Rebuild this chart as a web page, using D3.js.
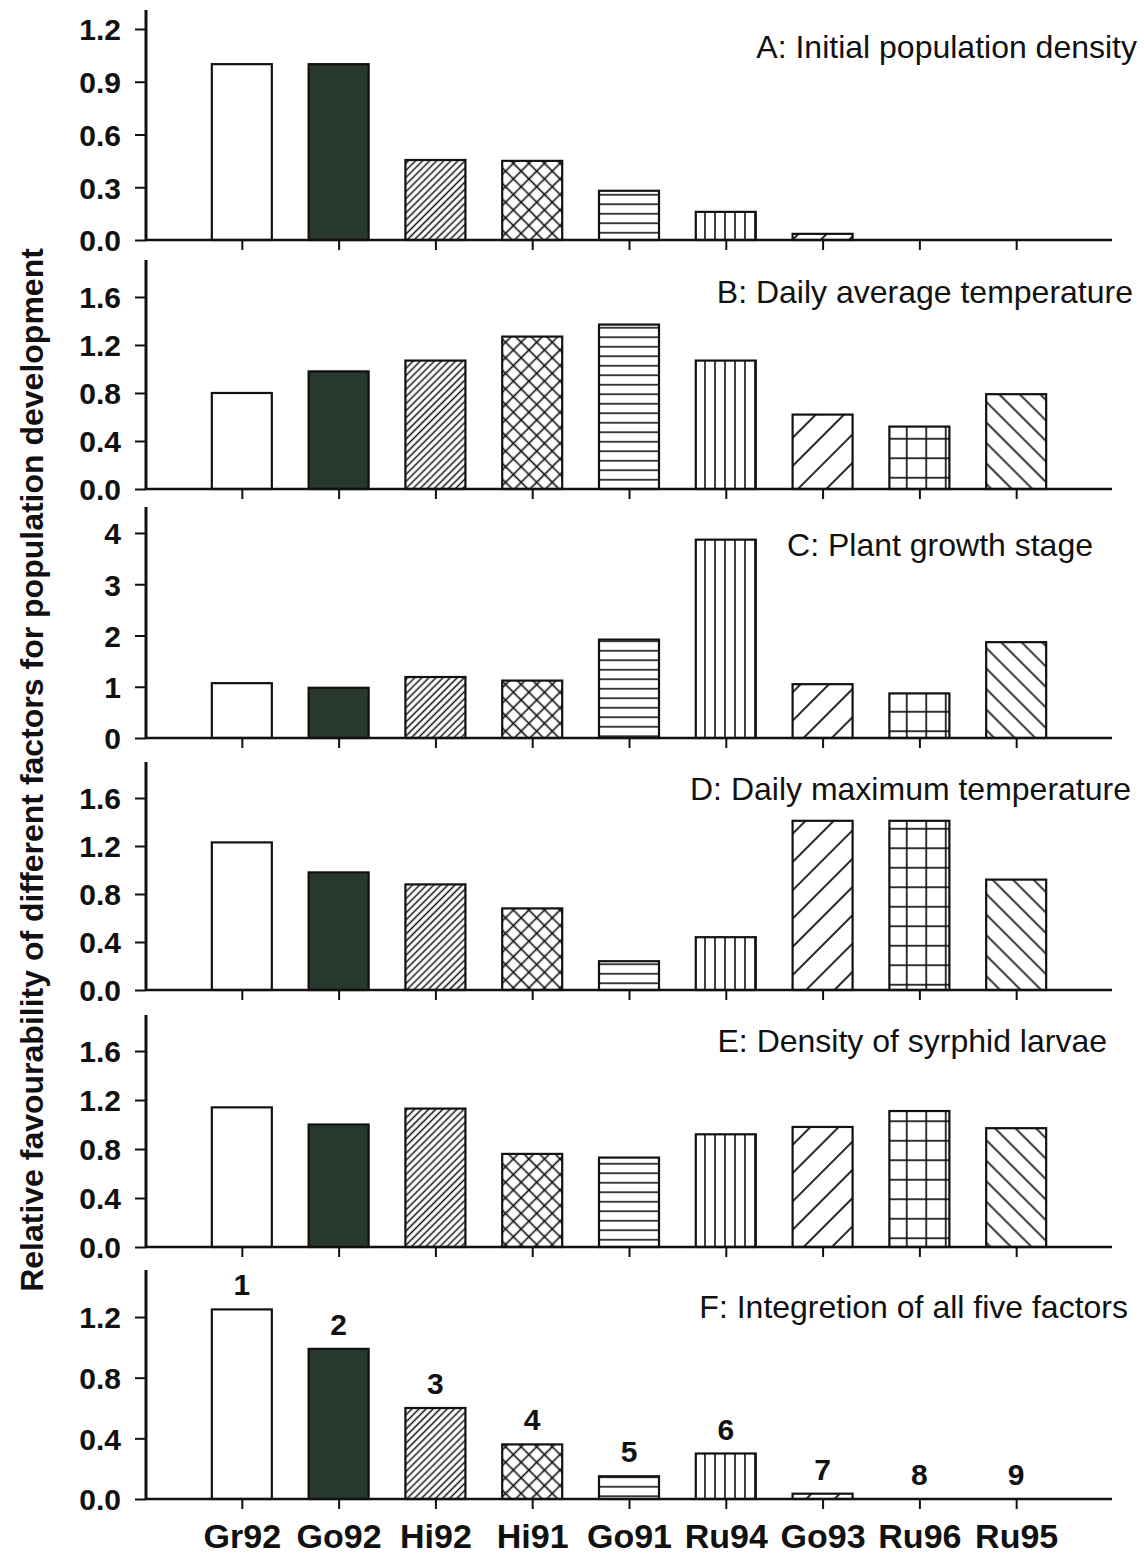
<!DOCTYPE html>
<html>
<head>
<meta charset="utf-8">
<script src="https://cdn.jsdelivr.net/npm/d3@7"></script>
<style>
  body { margin: 0; background: #fff; }
  svg { display: block; }
</style>
</head>
<body>
<script>
// ---- data -------------------------------------------------------------
const categories = ["Gr92", "Go92", "Hi92", "Hi91", "Go91", "Ru94", "Go93", "Ru96", "Ru95"];

const initialDensity = [1.00, 1.00, 0.455, 0.45, 0.28, 0.16, 0.035, 0, 0];
const avgTemperature = [0.80, 0.98, 1.07, 1.27, 1.37, 1.07, 0.62, 0.52, 0.79];
const growthStage    = [1.07, 0.98, 1.19, 1.12, 1.92, 3.87, 1.05, 0.87, 1.87];
const maxTemperature = [1.23, 0.98, 0.88, 0.68, 0.24, 0.44, 1.41, 1.41, 0.92];
const syrphidDensity = [1.14, 1.00, 1.13, 0.76, 0.73, 0.92, 0.98, 1.11, 0.97];
const integration    = [1.25, 0.99, 0.60, 0.36, 0.15, 0.30, 0.035, 0, 0];

const ranks = ["1", "2", "3", "4", "5", "6", "7", "8", "9"];

const panelTitles = [
  "A: Initial population density",
  "B: Daily average temperature",
  "C: Plant growth stage",
  "D: Daily maximum temperature",
  "E: Density of syrphid larvae",
  "F: Integretion of all five factors"
];

const ticksA = [0, 0.3, 0.6, 0.9, 1.2];
const ticksB = [0, 0.4, 0.8, 1.2, 1.6];
const ticksC = [0, 1, 2, 3, 4];
const ticksD = [0, 0.4, 0.8, 1.2, 1.6];
const ticksE = [0, 0.4, 0.8, 1.2, 1.6];
const ticksF = [0, 0.4, 0.8, 1.2];

const yAxisTitle = "Relative favourability of different factors for population development";

// ---- layout -----------------------------------------------------------
const W = 1144, H = 1566;
const axisX = 146, axisEnd = 1112;
const barWidth = 60;
const ink = "#111";

const panels = [
  { values: initialDensity, ticks: ticksA, fmt: ".1f", yMax: 1.308, top: 10,   base: 240,  titleEnd: 1137, titleBase: 58 },
  { values: avgTemperature, ticks: ticksB, fmt: ".1f", yMax: 1.908, top: 260,  base: 489,  titleEnd: 1133, titleBase: 303 },
  { values: growthStage,    ticks: ticksC, fmt: "d",   yMax: 4.507, top: 507,  base: 738,  titleEnd: 1093, titleBase: 556 },
  { values: maxTemperature, ticks: ticksD, fmt: ".1f", yMax: 1.90,  top: 762,  base: 990,  titleEnd: 1131, titleBase: 800 },
  { values: syrphidDensity, ticks: ticksE, fmt: ".1f", yMax: 1.894, top: 1015, base: 1247, titleEnd: 1107, titleBase: 1052 },
  { values: integration,    ticks: ticksF, fmt: ".1f", yMax: 1.51,  top: 1270, base: 1499, titleEnd: 1128, titleBase: 1318 }
];

const svg = d3.select("body").append("svg")
  .attr("width", W).attr("height", H)
  .attr("viewBox", `0 0 ${W} ${H}`)
  .style("font-family", "'Liberation Sans', Arial, Helvetica, sans-serif");

svg.append("rect").attr("width", W).attr("height", H).attr("fill", "#fff");

// ---- hatch patterns ---------------------------------------------------
const defs = svg.append("defs");

function linePattern(id, spacing, angle, strokeW) {
  const p = defs.append("pattern")
    .attr("id", id)
    .attr("patternUnits", "userSpaceOnUse")
    .attr("width", spacing).attr("height", spacing)
    .attr("patternTransform", `rotate(${angle})`);
  p.append("rect").attr("width", spacing).attr("height", spacing).attr("fill", "#fff");
  p.append("line")
    .attr("x1", spacing / 2).attr("y1", 0)
    .attr("x2", spacing / 2).attr("y2", spacing)
    .attr("stroke", ink).attr("stroke-width", strokeW);
  return `url(#${id})`;
}

function crossPattern(id, spacing, strokeW) {
  const p = defs.append("pattern")
    .attr("id", id)
    .attr("patternUnits", "userSpaceOnUse")
    .attr("width", spacing).attr("height", spacing)
    .attr("patternTransform", "rotate(45)");
  p.append("rect").attr("width", spacing).attr("height", spacing).attr("fill", "#fff");
  p.append("line").attr("x1", spacing / 2).attr("y1", 0).attr("x2", spacing / 2).attr("y2", spacing)
    .attr("stroke", ink).attr("stroke-width", strokeW);
  p.append("line").attr("x1", 0).attr("y1", spacing / 2).attr("x2", spacing).attr("y2", spacing / 2)
    .attr("stroke", ink).attr("stroke-width", strokeW);
  return `url(#${id})`;
}

function gridPattern(id, spacing, strokeW) {
  const p = defs.append("pattern")
    .attr("id", id)
    .attr("patternUnits", "userSpaceOnUse")
    .attr("width", spacing).attr("height", spacing);
  p.append("rect").attr("width", spacing).attr("height", spacing).attr("fill", "#fff");
  p.append("line").attr("x1", spacing / 2).attr("y1", 0).attr("x2", spacing / 2).attr("y2", spacing)
    .attr("stroke", ink).attr("stroke-width", strokeW);
  p.append("line").attr("x1", 0).attr("y1", spacing / 2).attr("x2", spacing).attr("y2", spacing / 2)
    .attr("stroke", ink).attr("stroke-width", strokeW);
  return `url(#${id})`;
}

const fills = {
  Gr92: "#ffffff",
  Go92: "#28382d",
  Hi92: linePattern("hatch-dense", 5, 45, 1.5),
  Hi91: crossPattern("hatch-cross", 11, 1.6),
  Go91: linePattern("hatch-horiz", 9.5, 90, 1.6),
  Ru94: linePattern("hatch-vert", 10, 0, 1.6),
  Go93: linePattern("hatch-wide", 20, 45, 1.8),
  Ru96: gridPattern("hatch-grid", 19.5, 1.7),
  Ru95: linePattern("hatch-back", 14.5, -45, 1.7)
};

// ---- shared x scale ---------------------------------------------------
const x = d3.scalePoint()
  .domain(categories)
  .range([axisX, axisEnd])
  .padding(0.99);

// ---- panels -----------------------------------------------------------
panels.forEach((pn, pi) => {
  const y = d3.scaleLinear().domain([0, pn.yMax]).range([pn.base, pn.top]);
  const g = svg.append("g");

  // bars
  g.selectAll("rect.bar")
    .data(categories.map((c, i) => ({ c, v: pn.values[i] })))
    .join("rect")
    .attr("class", "bar")
    .attr("x", d => x(d.c) - barWidth / 2)
    .attr("width", barWidth)
    .attr("y", d => y(d.v))
    .attr("height", d => y(0) - y(d.v))
    .attr("fill", d => fills[d.c])
    .attr("stroke", d => d.v > 0 ? ink : "none")
    .attr("stroke-width", 2.2);

  // y axis
  const yAxis = d3.axisLeft(y)
    .tickValues(pn.ticks)
    .tickFormat(d3.format(pn.fmt))
    .tickSizeInner(11)
    .tickSizeOuter(0)
    .tickPadding(14);
  const ya = g.append("g").attr("transform", `translate(${axisX},0)`).call(yAxis);
  ya.select(".domain").remove();
  ya.selectAll(".tick line").attr("stroke", ink).attr("stroke-width", 2);
  ya.selectAll(".tick text")
    .attr("fill", ink)
    .style("font-size", "30px")
    .style("font-weight", "bold")
    .attr("dy", "0.36em");
  g.append("line")
    .attr("x1", axisX).attr("x2", axisX)
    .attr("y1", pn.top).attr("y2", y(0) + 1)
    .attr("stroke", ink).attr("stroke-width", 3);

  // x axis
  const xAxis = d3.axisBottom(x)
    .tickSizeInner(10)
    .tickSizeOuter(0)
    .tickFormat(pi === panels.length - 1 ? (d => d) : () => "");
  const xa = g.append("g").attr("transform", `translate(0,${y(0)})`).call(xAxis);
  xa.select(".domain").remove();
  xa.selectAll(".tick line").attr("stroke", ink).attr("stroke-width", 2);
  xa.selectAll(".tick text")
    .attr("fill", ink)
    .attr("y", 49)
    .attr("dy", 0)
    .style("font-size", "34px")
    .style("font-weight", "bold");
  g.append("line")
    .attr("x1", axisX).attr("x2", axisEnd)
    .attr("y1", y(0)).attr("y2", y(0))
    .attr("stroke", ink).attr("stroke-width", 2.5);

  // panel title
  g.append("text")
    .attr("x", pn.titleEnd)
    .attr("y", pn.titleBase)
    .attr("text-anchor", "end")
    .attr("fill", ink)
    .style("font-size", "32px")
    .text(panelTitles[pi]);

  // rank numbers above the integrated bars
  if (pi === panels.length - 1) {
    g.selectAll("text.rank")
      .data(categories.map((c, i) => ({ c, v: pn.values[i], r: ranks[i] })))
      .join("text")
      .attr("class", "rank")
      .attr("x", d => x(d.c))
      .attr("y", d => y(d.v) - 14)
      .attr("text-anchor", "middle")
      .attr("fill", ink)
      .style("font-size", "30px")
      .style("font-weight", "bold")
      .text(d => d.r);
  }
});

// ---- shared y-axis title ----------------------------------------------
svg.append("text")
  .attr("transform", "translate(43,770) rotate(-90)")
  .attr("text-anchor", "middle")
  .attr("fill", ink)
  .style("font-size", "32px")
  .style("font-weight", "bold")
  .text(yAxisTitle);
</script>
</body>
</html>
